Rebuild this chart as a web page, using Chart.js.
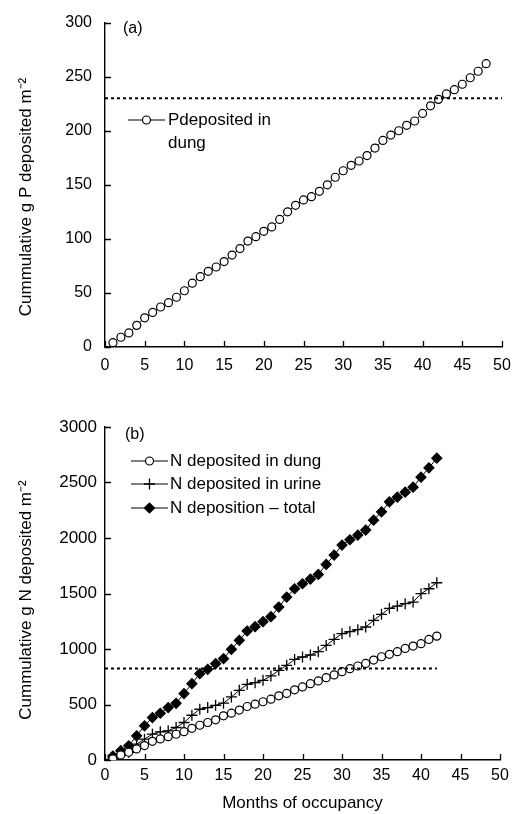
<!DOCTYPE html>
<html>
<head>
<meta charset="utf-8">
<script src="https://cdn.jsdelivr.net/npm/chart.js@4/dist/chart.umd.min.js"></script>
<style>
  html,body{margin:0;padding:0;background:#fff}
  .wrap{position:absolute;left:0;width:521px}
  #wa{top:0;height:400px}
  #wb{top:400px;height:414px}
</style>
</head>
<body>
<div class="wrap" id="wa"><canvas id="ca"></canvas></div>
<div class="wrap" id="wb"><canvas id="cb"></canvas></div>
<script>
// (a) P in dung, months 1-48
const MONTHS_P = [1,2,3,4,5,6,7,8,9,10,11,12,13,14,15,16,17,18,19,20,21,22,23,24,25,26,27,28,29,30,31,32,33,34,35,36,37,38,39,40,41,42,43,44,45,46,47,48]
const P_DUNG = [4,9,13,20,27,32,37,41,46,52,59,65,70,74,79,85,91,98,102,107,111,118,125,131,136,139,144,150,157,163,168,172,177,184,191,196,200,205,209,216,223,229,234,238,243,249,255,262]
const P_LIMIT = 230
const P_LIMIT_X = [0, 50]

// (b) N deposition, months 1-42
const MONTHS_N = [1,2,3,4,5,6,7,8,9,10,11,12,13,14,15,16,17,18,19,20,21,22,23,24,25,26,27,28,29,30,31,32,33,34,35,36,37,38,39,40,41,42]
const N_DUNG = [10,45,70,100,130,168,190,210,232,255,285,313,338,362,398,422,450,482,503,525,548,578,600,632,658,688,712,742,766,796,823,847,870,900,930,952,976,1005,1026,1048,1086,1116]
const N_URINE = [18,45,70,143,188,233,254,263,293,338,403,457,472,493,512,568,628,682,697,718,757,808,853,906,928,946,976,1032,1087,1138,1156,1174,1198,1258,1312,1366,1387,1408,1423,1498,1543,1597]
const N_TOTAL = [36,84,128,218,308,382,421,472,511,598,688,778,817,868,913,997,1078,1162,1201,1246,1291,1378,1468,1543,1588,1630,1672,1762,1846,1936,1984,2026,2071,2161,2236,2326,2368,2413,2458,2548,2632,2719]
const N_LIMIT = 825
const N_LIMIT_X = [0, 42]

const FONT = '"Liberation Sans", Arial, Helvetica, sans-serif'
Chart.defaults.font.family = FONT
Chart.defaults.color = '#000'

// short tick marks pointing into the plot
const inwardTicks = {
  id:'inwardTicks',
  afterDraw(chart){
    const {ctx, scales:{x, y}} = chart
    const len = 6
    ctx.save()
    ctx.strokeStyle = '#000'; ctx.lineWidth = 1.3
    ctx.beginPath()
    x.ticks.forEach(t => {
      const px = Math.round(x.getPixelForValue(t.value)) + 0.5
      ctx.moveTo(px, y.bottom); ctx.lineTo(px, y.bottom - len)
    })
    y.ticks.forEach(t => {
      const py = Math.round(y.getPixelForValue(t.value)) + 0.5
      ctx.moveTo(x.left, py); ctx.lineTo(x.left + len, py)
    })
    ctx.stroke()
    ctx.restore()
  }
}

// panel letter, y title and legend drawn inside the plot
const notes = {
  id:'notes',
  afterDraw(chart, args, o){
    const ctx = chart.ctx
    ctx.save()
    ctx.fillStyle = '#000'
    ctx.textBaseline = 'middle'
    ctx.font = '16px ' + FONT
    ctx.fillText(o.panel[0], o.panel[1], o.panel[2])
    ctx.font = '17px ' + FONT
    ctx.save()
    ctx.translate(o.ytitle[1], o.ytitle[2]); ctx.rotate(-Math.PI/2)
    ctx.textAlign = 'center'
    ctx.fillText(o.ytitle[0], 0, 0)
    ctx.restore()
    o.items.forEach(it => {
      const ds = chart.data.datasets[it.ds]
      ctx.strokeStyle = '#000'; ctx.lineWidth = 1
      ctx.beginPath(); ctx.moveTo(it.x0, it.y); ctx.lineTo(it.x1, it.y); ctx.stroke()
      ctx.fillStyle = ds.pointBackgroundColor
      ctx.strokeStyle = ds.pointBorderColor
      ctx.lineWidth = ds.pointBorderWidth
      Chart.helpers.drawPoint(ctx, {pointStyle:ds.pointStyle, radius:ds.pointRadius, borderWidth:ds.pointBorderWidth, rotation:0}, (it.x0+it.x1)/2, it.y)
      ctx.fillStyle = '#000'
      it.lines.forEach((s, i) => ctx.fillText(s, it.tx, it.y + i*23))
    })
    ctx.restore()
  }
}

const axisX = (h, pad, title) => ({
  type:'linear', min:0, max:50,
  ticks:{stepSize:5, padding:pad, font:{size:16}, color:'#000'},
  grid:{drawOnChartArea:false, drawTicks:false},
  border:{display:true, color:'#000', width:1.4},
  title:{display:!!title, text:title, font:{size:17}, color:'#000', padding:{top:0, bottom:0}},
  afterFit(s){ s.height = h }
})
const axisY = (max, step, pad, size) => ({
  type:'linear', min:0, max:max,
  ticks:{stepSize:step, padding:pad, font:{size:size}, color:'#000', callback:v => String(v)},
  grid:{drawOnChartArea:false, drawTicks:false},
  border:{display:true, color:'#000', width:1.4},
  afterFit(s){ s.width = 105 }
})

const line = (xs, ys, extra) => Object.assign({
  data: xs.map((v, i) => ({x:v, y:ys[i]})),
  showLine:true, borderColor:'#000', borderWidth:1,
  pointBorderColor:'#000', pointBorderWidth:1.2
}, extra)

const limit = (xs, v) => ({
  data: xs.map(x => ({x:x, y:v})),
  showLine:true, borderColor:'#000', borderWidth:2, borderDash:[3,3],
  pointRadius:0
})

const base = {
  responsive:true, maintainAspectRatio:false, animation:false,
  plugins:{legend:{display:false}, tooltip:{enabled:false}}
}

new Chart(document.getElementById('ca'), {
  type:'scatter',
  data:{datasets:[
    limit(P_LIMIT_X, P_LIMIT),
    line(MONTHS_P, P_DUNG, {pointStyle:'circle', pointRadius:4, pointBackgroundColor:'#fff'})
  ]},
  options:Object.assign({}, base, {
    layout:{padding:{top:20, right:19, left:0, bottom:0}},
    scales:{x:axisX(53, 9), y:axisY(300, 50, 13, 16)},
    plugins:Object.assign({}, base.plugins, {notes:{
      panel:['(a)', 123, 29],
      ytitle:['Cummulative g P deposited m⁻²', 26, 197],
      items:[{ds:1, x0:128, x1:165, y:120, tx:168, lines:['Pdeposited in', 'dung']}]
    }})
  }),
  plugins:[inwardTicks, notes]
})

new Chart(document.getElementById('cb'), {
  type:'scatter',
  data:{datasets:[
    limit(N_LIMIT_X, N_LIMIT),
    line(MONTHS_N, N_DUNG, {pointStyle:'circle', pointRadius:4, pointBackgroundColor:'#fff'}),
    line(MONTHS_N, N_URINE, {pointStyle:'cross', pointRadius:5.5, pointBorderWidth:1.3, pointBackgroundColor:'#000'}),
    line(MONTHS_N, N_TOTAL, {pointStyle:'rectRot', pointRadius:5, pointBackgroundColor:'#000'})
  ]},
  options:Object.assign({}, base, {
    layout:{padding:{top:27, right:21, left:0, bottom:0}},
    scales:{x:axisX(54, 6, 'Months of occupancy'), y:axisY(3000, 500, 8, 17)},
    plugins:Object.assign({}, base.plugins, {notes:{
      panel:['(b)', 125, 35],
      ytitle:['Cummulative g N deposited m⁻²', 26, 200],
      items:[
        {ds:1, x0:131, x1:168, y:61, tx:170, lines:['N deposited in dung']},
        {ds:2, x0:131, x1:168, y:84, tx:170, lines:['N deposited in urine']},
        {ds:3, x0:131, x1:168, y:108, tx:170, lines:['N deposition – total']}
      ]
    }})
  }),
  plugins:[inwardTicks, notes]
})
</script>
</body>
</html>
